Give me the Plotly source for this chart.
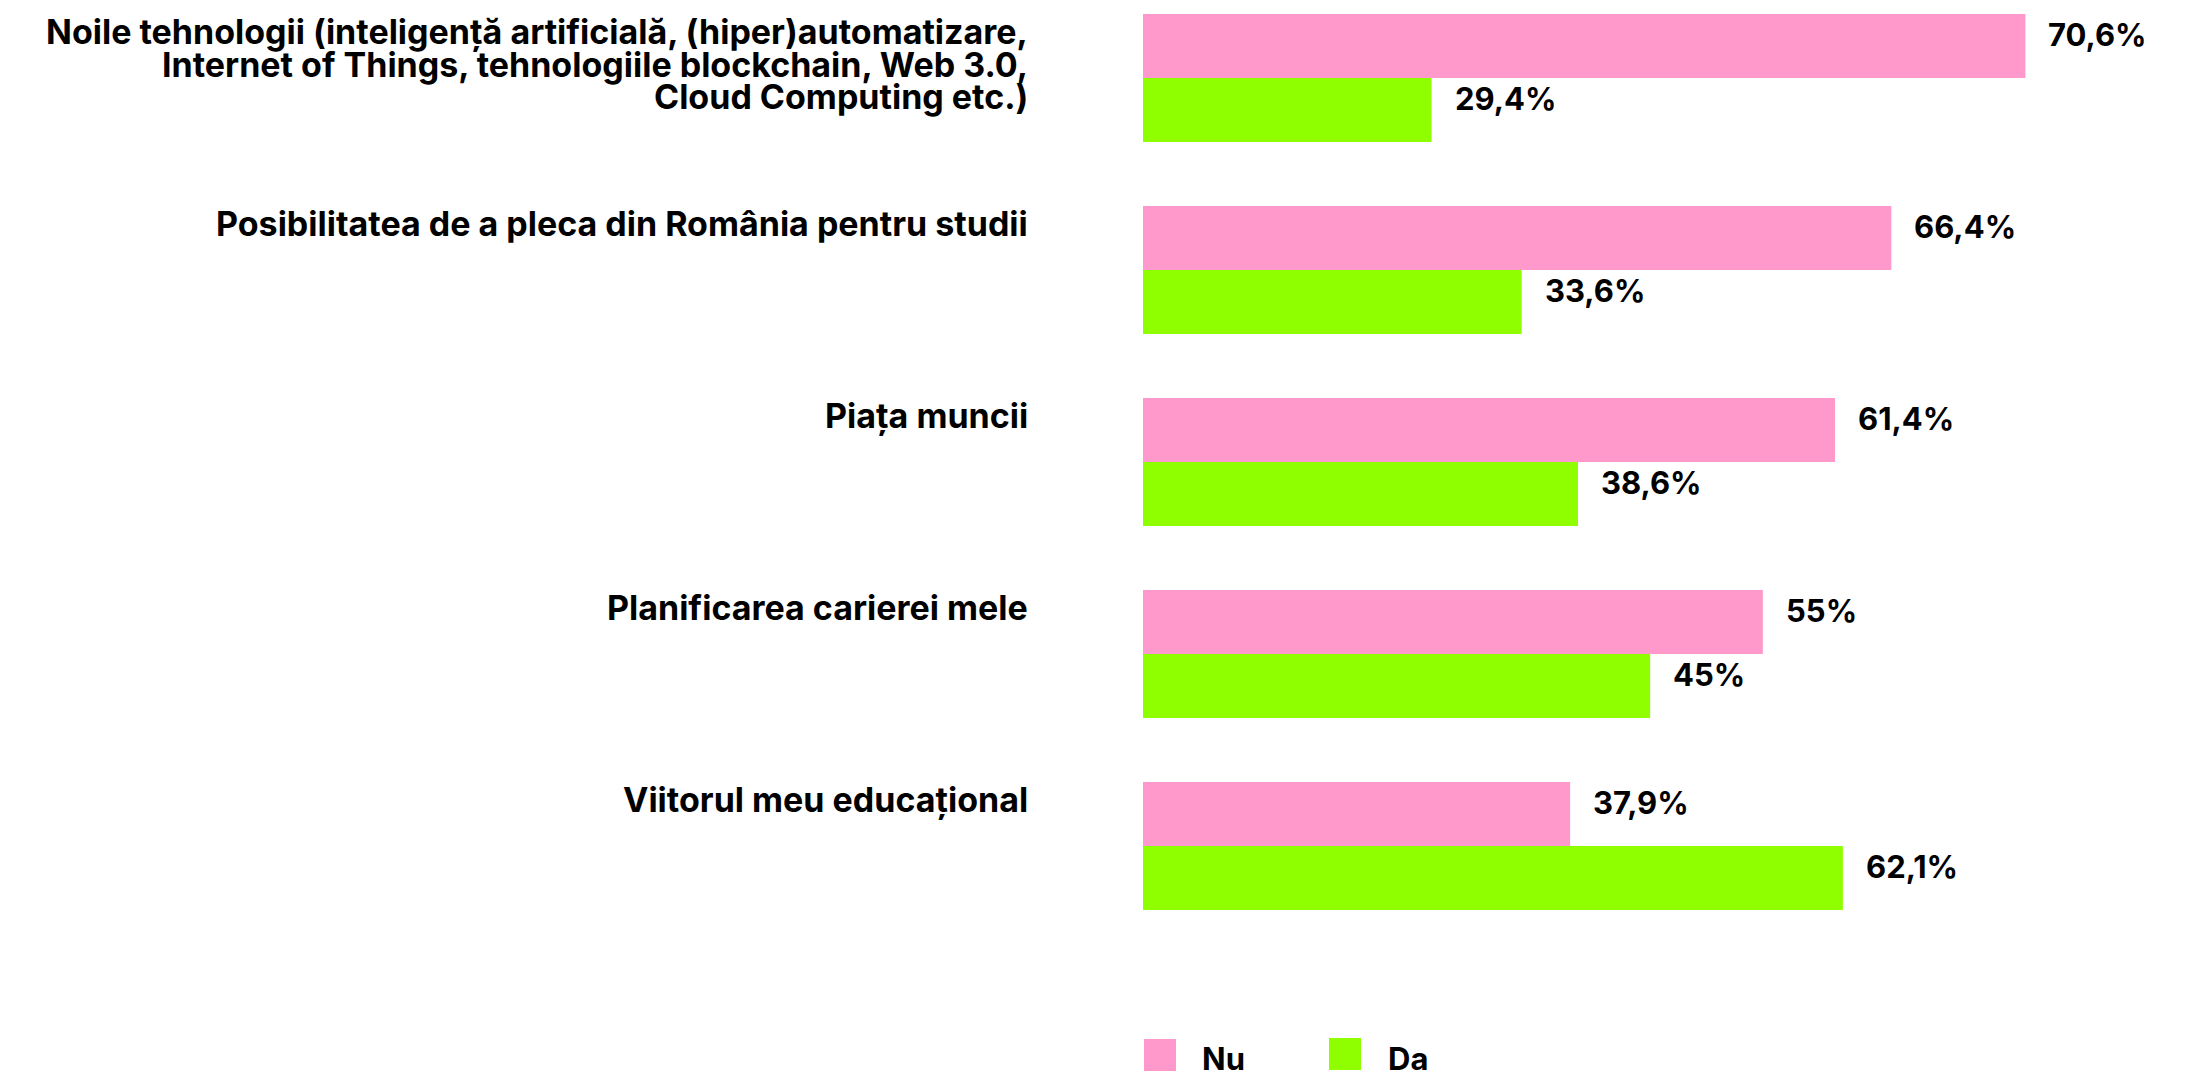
import plotly.graph_objects as go

# ---- data ----
categories = [
    "Noile tehnologii (inteligență artificială, (hiper)automatizare,<br>Internet of Things, tehnologiile blockchain, Web 3.0,<br>Cloud Computing etc.)",
    "Posibilitatea de a pleca din România pentru studii",
    "Piața muncii",
    "Planificarea carierei mele",
    "Viitorul meu educațional",
]
# bar lengths as drawn in the picture
nu_values = [78.3, 66.4, 61.4, 55.0, 37.9]
da_values = [25.6, 33.6, 38.6, 45.0, 62.1]
# printed labels
nu_labels = ["70,6%", "66,4%", "61,4%", "55%", "37,9%"]
da_labels = ["29,4%", "33,6%", "38,6%", "45%", "62,1%"]
series_names = ["Nu", "Da"]
colors = ["#FF99CC", "#8FFF00"]

W, H = 2197, 1076
ML, MR, MT, MB = 1143, 40, 0, 116
PW = W - ML - MR
PH = H - MT - MB

FONT = "Inter"
fig = go.Figure()
keys = [str(i) for i in range(len(categories))]
fig.add_trace(go.Bar(y=keys, x=nu_values, orientation="h", name=series_names[0],
                     marker=dict(color=colors[0], line=dict(width=0)), hoverinfo="skip"))
fig.add_trace(go.Bar(y=keys, x=da_values, orientation="h", name=series_names[1],
                     marker=dict(color=colors[1], line=dict(width=0)), hoverinfo="skip"))

annotations = []
# category labels, one annotation per line
for k, lab in zip(keys, categories):
    for j, line in enumerate(lab.split("<br>")):
        annotations.append(dict(
            x=0, xref="paper", y=k, yref="y", xanchor="right", yanchor="middle",
            xshift=-113, yshift=46 - 32.5 * j, text=line, showarrow=False,
            font=dict(family=FONT, size=34, color="#000", weight=700), align="right"))
# value labels
for k, v, t in zip(keys, nu_values, nu_labels):
    annotations.append(dict(x=v, y=k, xref="x", yref="y", xanchor="left", yanchor="middle",
                            xshift=21, yshift=43, text=t, showarrow=False,
                            font=dict(family=FONT, size=31, color="#000", weight=700)))
for k, v, t in zip(keys, da_values, da_labels):
    annotations.append(dict(x=v, y=k, xref="x", yref="y", xanchor="left", yanchor="middle",
                            xshift=21, yshift=-21, text=t, showarrow=False,
                            font=dict(family=FONT, size=31, color="#000", weight=700)))

# legend (drawn manually to match large square swatches)
shapes = []
leg = [(1144, 1039, 1200), (1329, 1038, 1386)]
for (sx, sy, tx), name, col in zip(leg, series_names, colors):
    shapes.append(dict(type="rect", xref="paper", yref="paper",
                       x0=(sx - ML) / PW, x1=(sx + 32 - ML) / PW,
                       y0=(PH - (sy + 32)) / PH, y1=(PH - sy) / PH,
                       fillcolor=col, line=dict(width=0)))
    annotations.append(dict(x=(tx - ML) / PW, y=(PH - 1058) / PH, xref="paper", yref="paper",
                            xanchor="left", yanchor="middle", text=name, showarrow=False,
                            font=dict(family=FONT, size=31, color="#000", weight=700)))

fig.update_layout(
    width=W, height=H,
    margin=dict(l=ML, r=MR, t=MT, b=MB, pad=0),
    paper_bgcolor="white", plot_bgcolor="white",
    barmode="group", bargap=1 / 3, bargroupgap=0,
    showlegend=False,
    xaxis=dict(range=[0, PW / 11.27], visible=False, fixedrange=True),
    yaxis=dict(type="category", categoryarray=keys, range=[4.594, -0.406],
               showticklabels=False, showgrid=False, zeroline=False, showline=False,
               ticks="", fixedrange=True),
    annotations=annotations, shapes=shapes,
)
fig.write_html(
    "out.html",
    config={"displayModeBar": False},
    post_script="document.body.style.margin='0';document.documentElement.style.overflow='hidden';document.body.style.overflow='hidden';",
)
